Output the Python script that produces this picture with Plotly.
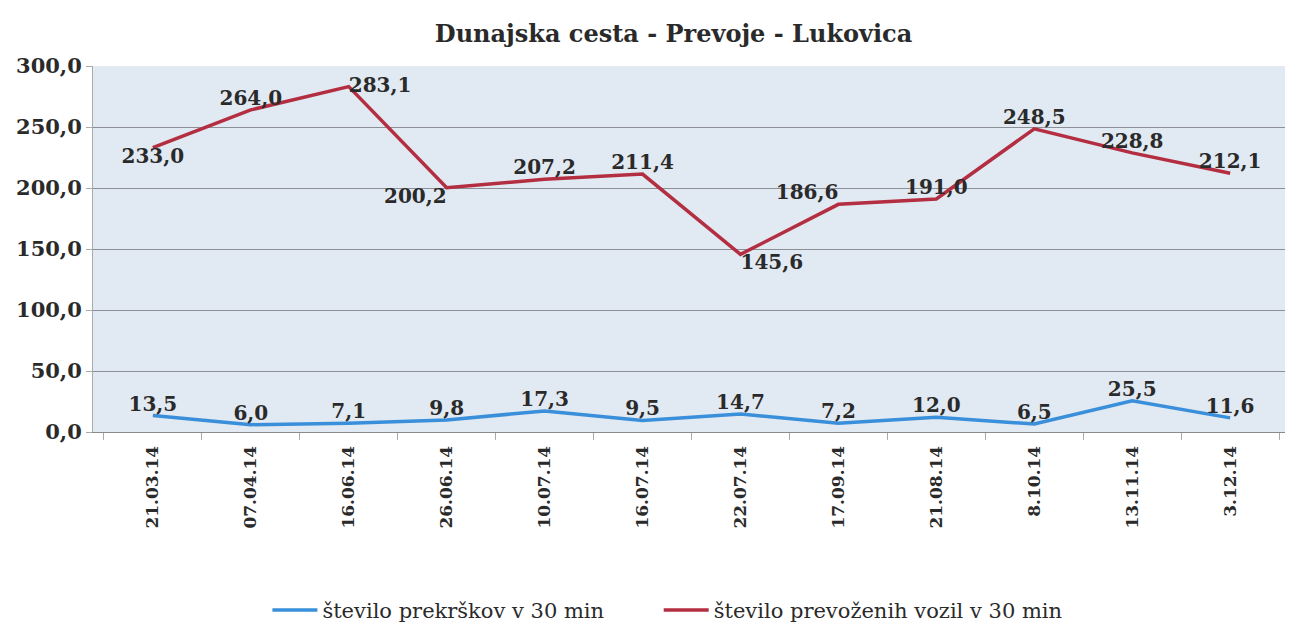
import plotly.graph_objects as go

categories = ["21.03.14", "07.04.14", "16.06.14", "26.06.14", "10.07.14", "16.07.14",
              "22.07.14", "17.09.14", "21.08.14", "8.10.14", "13.11.14", "3.12.14"]
prekrski = [13.5, 6.0, 7.1, 9.8, 17.3, 9.5, 14.7, 7.2, 12.0, 6.5, 25.5, 11.6]
vozila = [233.0, 264.0, 283.1, 200.2, 207.2, 211.4, 145.6, 186.6, 191.0, 248.5, 228.8, 212.1]
y_ticks = [0, 50, 100, 150, 200, 250, 300]

red_pos = ["bottom center", "top center", "middle right", "bottom left", "top center", "top center",
           "bottom right", "top left", "top center", "top center", "top center", "top center"]

serif = "DejaVu Serif, Liberation Serif, serif"
txt = "#2a2a2a"

fig = go.Figure()
fig.add_trace(go.Scatter(
    x=categories, y=prekrski, mode="lines+text",
    name="število prekrškov v 30 min",
    line=dict(color="#3a8fdb", width=3.5),
    text=[f"{v:.1f}".replace(".", ",") for v in prekrski],
    textposition="top center",
    textfont=dict(family=serif, size=20, color=txt, weight="bold"),
    cliponaxis=False,
    legend="legend",
))
fig.add_trace(go.Scatter(
    x=categories, y=vozila, mode="lines+text",
    name="število prevoženih vozil v 30 min",
    line=dict(color="#b42e42", width=3.5),
    text=[f"{v:.1f}".replace(".", ",") for v in vozila],
    textposition=red_pos,
    textfont=dict(family=serif, size=20, color=txt, weight="bold"),
    cliponaxis=False,
    legend="legend2",
))

leg_common = dict(orientation="h", xanchor="left", yref="container", y=0.05, yanchor="middle",
                  font=dict(family=serif, size=21, color=txt), itemwidth=45,
                  bgcolor="rgba(0,0,0,0)")

fig.update_layout(
    width=1293, height=634,
    paper_bgcolor="white",
    plot_bgcolor="#e1e9f2",
    separators=",.",
    title=dict(text="<b>Dunajska cesta - Prevoje - Lukovica</b>", x=0.485, xanchor="center",
               xref="paper", yref="container", y=0.959, yanchor="middle",
               font=dict(family=serif, size=24, color=txt)),
    margin=dict(l=85, r=11, t=58, b=210, autoexpand=False),
    showlegend=True,
    legend=dict(x=0.1457, **leg_common),
    legend2=dict(x=0.4726, **leg_common),
    xaxis=dict(
        type="category", tickangle=-90, automargin=False,
        tickfont=dict(family=serif, size=17, color=txt, weight="bold"),
        showgrid=False, showline=True, linecolor="#8a8a8a", linewidth=1,
        ticks="outside", ticklen=7, tickcolor="#aaaaaa", tickson="boundaries",
        ticklabelstandoff=6,
    ),
    yaxis=dict(
        range=[0, 300], tickvals=y_ticks, tickformat=".1f", automargin=False,
        tickfont=dict(family=serif, size=21, color=txt, weight="bold"),
        showgrid=True, gridcolor="#8c9096", gridwidth=1,
        showline=True, linecolor="#aaaaaa", zeroline=False,
        ticks="outside", ticklen=6, tickcolor="#aaaaaa",
    ),
)

fig.write_html("out.html")
